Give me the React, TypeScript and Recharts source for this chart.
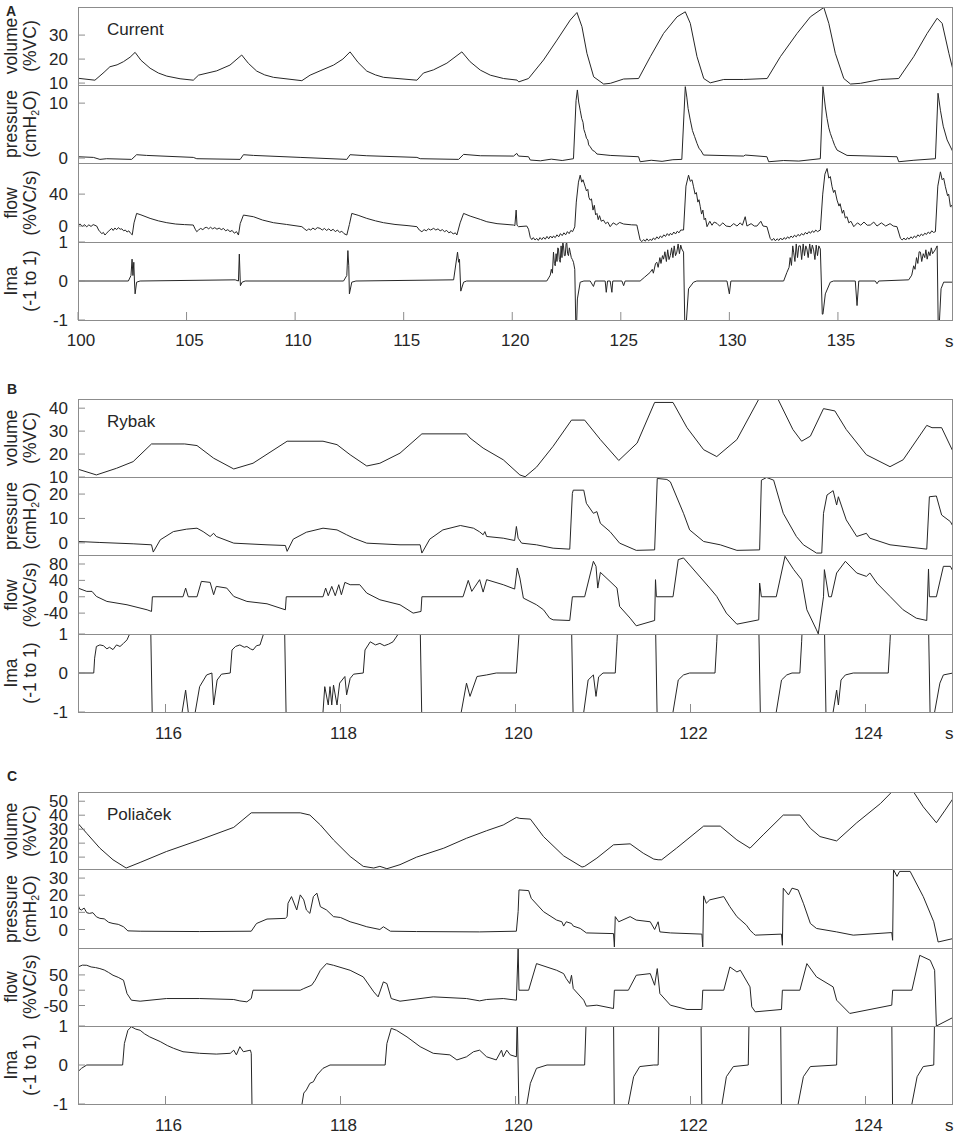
import React from 'react';
import { LineChart, Line, XAxis, YAxis } from 'recharts';

// ---- panel A (Current), time in s ----
const aTicksX = [100, 105, 110, 115, 120, 125, 130, 135];
const aVol = [
  [100, 12], [100.78, 11.2], [101.2, 14.5], [101.47, 16.8], [101.8, 17.6], [102.09, 18.9], [102.4, 20.8], [102.63, 22.8],
  [102.9, 19.5], [103.32, 16.2], [103.7, 14.2], [104.09, 12.9], [104.7, 11.8], [105.31, 11.2], [105.55, 13.3], [106.39, 15.1],
  [107.0, 17.5], [107.54, 21.7], [107.85, 18.2], [108.23, 15], [108.6, 13.4], [109.0, 12.4], [110.31, 11], [110.69, 13.3],
  [111.15, 15.1], [111.77, 17.5], [112.2, 20], [112.53, 23], [112.9, 18.6], [113.3, 15], [113.7, 13.4], [114.07, 12.4],
  [115.61, 11.2], [115.91, 14.2], [116.37, 15.5], [116.99, 18.3], [117.68, 23], [118.06, 18.9], [118.53, 15.4], [118.99, 13.3],
  [119.6, 11.9], [120.22, 11.25], [120.3, 10.5], [120.75, 11.9], [121.44, 19.6], [122.06, 27.9], [122.67, 36.25], [122.98, 39.4],
  [123.21, 33.5], [123.44, 22.4], [123.75, 12.6], [124.21, 9.6], [124.52, 9.9], [125.13, 11.7], [125.82, 11.9], [126.36, 21],
  [126.97, 30.7], [127.59, 37.6], [127.97, 39.7], [128.2, 34.9], [128.51, 21], [128.82, 11.9], [129.12, 10.1], [129.74, 11.5],
  [130.66, 11.5], [131.74, 11.9], [132.35, 21], [133.12, 30.7], [133.73, 37.6], [134.35, 41.5], [134.58, 34.9], [134.88, 22.4],
  [135.27, 11.9], [135.58, 9.6], [136.04, 9.9], [136.96, 11.5], [137.8, 11.9], [138.49, 21], [139.11, 30.7], [139.57, 37],
  [139.8, 34.9], [140.11, 22.4], [140.34, 14],
];
const aPres = [
  [100, 0.24], [100.71, 0.12], [101.01, -0.24], [101.32, -0.12], [102.47, -0.24], [102.7, 0.61], [103.16, 0.48], [105.31, 0.12],
  [105.47, -0.12], [107.47, -0.24], [107.62, 0.61], [108.08, 0.48], [110.23, 0.12], [112.38, -0.24], [112.53, 0.61], [113.3, 0.42],
  [115.61, 0.12], [115.76, -0.12], [117.53, -0.24], [117.76, 0.67], [118.53, 0.42], [120.06, 0.36], [120.21, 0.85], [120.29, 0.36],
  [120.75, 0.24], [120.83, -0.36], [121.3, -0.5], [121.8, -0.2], [122.3, -0.45], [122.82, -0.12], [122.94, 10.5], [123.0, 12.4],
  [123.06, 10.2], [123.13, 8.7], [123.2, 7.2], [123.26, 6.5], [123.3, 5.2], [123.36, 4.5], [123.42, 3.6], [123.48, 3.3],
  [123.52, 2.4], [123.59, 2.06], [123.7, 1.4], [123.8, 1.2], [123.9, 0.73], [124.51, 0.48], [125.82, 0.24], [125.89, -0.67],
  [126.4, -0.4], [126.9, -0.6], [127.4, -0.3], [127.81, -0.24], [127.97, 13.0], [128.04, 11.1], [128.1, 9.0], [128.2, 6.9],
  [128.3, 5.0], [128.4, 3.9], [128.51, 2.67], [128.6, 1.8], [128.7, 1.3], [128.81, 0.55], [130.66, 0.36], [130.73, 0.55],
  [131.73, 0.24], [131.81, -0.67], [132.5, -0.45], [133.2, -0.55], [134.19, -0.12], [134.31, 13.0], [134.42, 9.3], [134.5, 7.2],
  [134.58, 5.5], [134.65, 4.5], [134.75, 3.4], [134.85, 2.3], [134.96, 1.45], [135.42, 0.48], [137.72, 0.24], [137.8, -0.67],
  [138.5, -0.4], [139.49, -0.12], [139.61, 11.8], [139.72, 8.7], [139.85, 5.8], [140.03, 3.3], [140.33, 0.85],
];
const aFlow = [
  [100, 1], [100.1, 2.5], [100.2, -0.5], [100.3, 1.8], [100.4, -1], [100.5, 1.5], [100.6, -0.5], [100.7, 1.8], [100.86, 0],
  [100.95, -5], [101.01, -7.1], [101.1, -9.5], [101.17, -8], [101.24, -11.25], [101.32, -9], [101.4, -6.5], [101.47, -5],
  [101.55, -3], [101.62, -5.5], [101.7, -2.5], [101.78, -4.5], [101.86, -2], [101.94, -4], [102.02, -3.5], [102.1, -6],
  [102.18, -5], [102.26, -7.5], [102.34, -6], [102.42, -9], [102.5, -11], [102.58, 4], [102.7, 15.8], [102.9, 14],
  [103.32, 9.6], [103.7, 6.5], [104.09, 4.2], [104.5, 2.5], [104.9, 1.8], [105.31, 1.25],
  [105.4, -4], [105.47, -7.1], [105.55, -5], [105.65, -3], [105.75, -4.5], [105.85, -2], [105.93, -1.7], [106.02, -3.5],
  [106.1, -1.5], [106.2, -3.5], [106.3, -2], [106.4, -4], [106.5, -2.5], [106.6, -4.5], [106.7, -3], [106.8, -6], [106.9, -4.5],
  [107.0, -7], [107.1, -5.5], [107.2, -9], [107.3, -7], [107.39, -11.25], [107.47, 3], [107.62, 13.75], [108.08, 11.7],
  [108.5, 7.5], [109.0, 4.2], [109.6, 2], [110.31, -0.8],
  [110.45, -4], [110.54, -5.8], [110.62, -3.5], [110.72, -5], [110.82, -2.5], [110.92, -4.5], [111.02, -2], [111.15, -2.9],
  [111.25, -5], [111.35, -3], [111.45, -5.5], [111.55, -3.5], [111.65, -6], [111.75, -4], [111.85, -7], [111.95, -5],
  [112.05, -8], [112.15, -6.5], [112.25, -9.5], [112.38, -11.25], [112.5, 2], [112.61, 15.8], [112.9, 13.5], [113.3, 9.6],
  [113.7, 6.5], [114.07, 4.2], [114.6, 2], [115.2, 0.5], [115.61, -0.8],
  [115.72, -5], [115.84, -7.1], [115.94, -4.5], [116.04, -6], [116.14, -3.5], [116.24, -5], [116.38, -2.9], [116.48, -5],
  [116.58, -3.5], [116.68, -6], [116.78, -4.5], [116.88, -7], [116.98, -5.5], [117.08, -8.5], [117.18, -7], [117.28, -10],
  [117.38, -8.5], [117.45, -11.25], [117.6, 4], [117.76, 15.8], [118.06, 12.5], [118.53, 8.3], [118.83, 5.4], [119.3, 3],
  [120.06, 1.25], [120.12, 0.5], [120.18, 20], [120.22, 1], [120.29, -0.8], [120.67, 0], [120.75, -4],
  [120.83, -14.2], [120.9, -17], [120.97, -14.5], [121.05, -17.5], [121.13, -15.5], [121.2, -18], [121.28, -14.5],
  [121.36, -17], [121.44, -14], [121.52, -16.5], [121.6, -13], [121.68, -16], [121.76, -12.5], [121.84, -15], [121.9, -12.5],
  [121.98, -14.5], [122.06, -11], [122.14, -13.5], [122.22, -9.5], [122.3, -12], [122.38, -8.5], [122.46, -11], [122.54, -7],
  [122.62, -9.5], [122.7, -5.5], [122.78, -7], [122.88, -1],
  [122.95, 30], [123.05, 55], [123.13, 63.75], [123.2, 55], [123.26, 58], [123.36, 49.2], [123.42, 44], [123.48, 46],
  [123.53, 36], [123.59, 32.5], [123.65, 34], [123.72, 20], [123.78, 26], [123.84, 14], [123.9, 15.8], [123.96, 8],
  [124.02, 13], [124.1, 6], [124.2, 7.5], [124.3, 3], [124.4, 5], [124.51, -0.8], [124.65, 4], [124.8, 1.5], [124.95, 4.5],
  [125.13, 2.5], [125.5, 1.5], [125.74, 1.25],
  [125.89, -17.5], [125.97, -19.5], [126.05, -17], [126.13, -19], [126.2, -16], [126.28, -18.5], [126.35, -16.7],
  [126.43, -18], [126.5, -15], [126.58, -17], [126.66, -13.5], [126.74, -16], [126.82, -12.5], [126.9, -14.5], [126.98, -11],
  [127.06, -13], [127.14, -9.5], [127.22, -12], [127.28, -9.2], [127.36, -11], [127.44, -7.5], [127.52, -10], [127.6, -6.5],
  [127.68, -8.5], [127.76, -5], [127.89, -5],
  [128.0, 50], [128.12, 63.75], [128.2, 56], [128.28, 58], [128.35, 49.2], [128.42, 40], [128.48, 42], [128.55, 30],
  [128.6, 33], [128.66, 24.2], [128.72, 15], [128.78, 20], [128.84, 8], [128.9, 10], [128.97, -0.8], [129.1, 6], [129.2, 1],
  [129.3, 5], [129.43, 3.3], [129.55, 0], [129.7, 4], [129.85, 0], [130.04, -0.8], [130.2, 3], [130.35, 0], [130.5, 4],
  [130.6, 1], [130.73, 11.7], [130.81, 0], [131.0, 3], [131.15, 0], [131.27, 0], [131.45, 6], [131.55, 0], [131.73, -0.8],
  [131.88, -15.4], [131.96, -18], [132.04, -15.5], [132.12, -18.5], [132.2, -16], [132.28, -18], [132.36, -15],
  [132.44, -17.5], [132.52, -14.5], [132.6, -16.5], [132.68, -13.5], [132.76, -15.5], [132.84, -12.5], [132.92, -14.5],
  [133.0, -11.5], [133.08, -13.5], [133.16, -10.5], [133.24, -12.5], [133.32, -9.5], [133.42, -11.25], [133.5, -8],
  [133.58, -10], [133.66, -7], [133.74, -9], [133.82, -6], [133.9, -8], [133.98, -5], [134.06, -7], [134.19, -5],
  [134.3, 40], [134.4, 65], [134.5, 72.1], [134.58, 60], [134.65, 62], [134.73, 49.2], [134.8, 42], [134.86, 45],
  [134.96, 32.5], [135.05, 25], [135.1, 28], [135.2, 16], [135.26, 20], [135.34, 10], [135.42, 11.7], [135.5, 4], [135.6, 6],
  [135.73, -0.8], [135.9, 4], [136.05, 1], [136.2, 5], [136.35, 1], [136.49, 1.25], [136.65, 5], [136.8, 0], [137.0, 4],
  [137.2, 0], [137.4, 3], [137.55, 0], [137.72, -0.8],
  [137.88, -15.4], [137.96, -17.5], [138.04, -15], [138.12, -17.5], [138.2, -14.5], [138.28, -16.5], [138.36, -13.5],
  [138.44, -15.5], [138.52, -12.5], [138.6, -14.5], [138.68, -11], [138.76, -13], [138.84, -10], [138.92, -12], [139.0, -9],
  [139.08, -10.5], [139.16, -7.5], [139.24, -9.5], [139.32, -6], [139.4, -8], [139.49, -7.1],
  [139.6, 50], [139.72, 67.9], [139.8, 58], [139.87, 60], [139.95, 49.2], [140.05, 38], [140.1, 40], [140.18, 24.2],
  [140.25, 26], [140.33, 15.8],
];
const aIma = [
  [100, 0], [102.32, 0], [102.44, 0.14], [102.49, 0.56], [102.53, 0.14], [102.57, 0.48], [102.6, 0], [102.63, -0.33],
  [102.7, -0.03], [102.86, 0], [107.24, 0.03], [107.39, 0], [107.43, 0.69], [107.48, -0.12], [107.56, -0.03], [107.7, 0],
  [112.23, 0], [112.38, 0.14], [112.43, 0.78], [112.47, 0.39], [112.5, -0.33], [112.61, -0.03], [112.8, 0], [117.3, 0.03],
  [117.48, 0.74], [117.53, 0.48], [117.57, 0.56], [117.63, -0.26], [117.76, -0.03], [117.9, 0],
  [121.59, 0], [121.7, 0.1], [121.75, 0.15], [121.8, 0.3], [121.85, 0.2], [121.9, 0.74], [121.94, 0.45], [121.98, 0.39],
  [122.02, 0.7], [122.06, 0.5], [122.1, 0.85], [122.13, 0.82], [122.17, 0.55], [122.21, 0.48], [122.25, 0.9], [122.29, 0.6],
  [122.33, 1.0], [122.36, 0.9], [122.4, 0.65], [122.44, 0.65], [122.48, 0.95], [122.51, 0.99], [122.55, 0.7], [122.59, 0.65],
  [122.63, 0.85], [122.67, 0.74], [122.72, 0.6], [122.77, 0.55], [122.82, 0.48], [122.88, 0.3], [122.93, -1.2], [122.96, -1.2],
  [123.0, -0.46], [123.13, -0.03], [123.3, 0], [123.59, 0], [123.74, -0.14], [123.82, 0], [124.28, 0], [124.33, -0.29],
  [124.39, 0], [124.51, 0], [124.59, -0.29], [124.63, 0], [125.05, 0], [125.13, -0.12], [125.2, 0], [125.89, 0],
  [126.1, 0.1], [126.35, 0.22], [126.45, 0.3], [126.5, 0.2], [126.6, 0.45], [126.66, 0.48], [126.72, 0.35], [126.8, 0.6],
  [126.85, 0.45], [126.92, 0.65], [126.97, 0.56], [127.03, 0.75], [127.1, 0.5], [127.16, 0.8], [127.22, 0.55], [127.28, 0.65],
  [127.34, 0.85], [127.4, 0.6], [127.46, 0.9], [127.52, 0.65], [127.58, 0.74], [127.64, 0.95], [127.7, 0.7], [127.76, 0.92],
  [127.81, 0.82], [127.89, 0.74], [127.95, -1.2], [128.0, -1.2], [128.12, -0.2], [128.35, -0.03], [128.5, 0], [129.89, 0],
  [130.0, -0.33], [130.07, 0], [132.5, 0], [132.65, 0.22], [132.75, 0.35], [132.8, 0.6], [132.86, 0.4], [132.92, 0.9],
  [132.96, 0.74], [133.02, 0.5], [133.08, 0.95], [133.14, 0.6], [133.2, 0.9], [133.27, 0.9], [133.33, 0.55], [133.4, 0.95],
  [133.46, 0.65], [133.52, 0.9], [133.57, 0.82], [133.63, 0.6], [133.7, 0.95], [133.76, 0.7], [133.82, 0.92], [133.88, 0.8],
  [133.94, 0.55], [134.0, 0.92], [134.06, 0.65], [134.12, 0.9], [134.19, 0.82], [134.28, -0.85], [134.31, -0.85],
  [134.42, -0.33], [134.65, -0.03], [134.8, 0], [135.8, 0], [135.88, -0.63], [135.96, 0], [136.72, 0], [136.8, -0.07],
  [136.88, 0], [138.26, 0.03], [138.4, 0.15], [138.49, 0.39], [138.55, 0.3], [138.62, 0.6], [138.68, 0.45], [138.74, 0.75],
  [138.8, 0.74], [138.86, 0.5], [138.93, 0.7], [139.0, 0.6], [139.05, 0.8], [139.11, 0.56], [139.18, 0.75], [139.24, 0.65],
  [139.3, 0.85], [139.36, 0.7], [139.41, 0.74], [139.48, 0.8], [139.57, 0.9], [139.62, -1.2], [139.66, -1.2], [139.75, -0.2],
  [139.87, -0.03], [140.33, -0.03],
];

// ---- panel B (Rybak) ----
const bcTicksX = [116, 118, 120, 122, 124];
const bVol = [
  [115.0, 13.4], [115.21, 10.9], [115.44, 13.8], [115.63, 16.7], [115.84, 24.4], [116.22, 24.4], [116.36, 23.7], [116.55, 18.2],
  [116.78, 13.5], [117.0, 16.0], [117.39, 25.6], [117.8, 25.6], [117.96, 24.1], [118.11, 19.7], [118.3, 14.8], [118.45, 16.0],
  [118.68, 20.4], [118.93, 28.8], [119.44, 28.8], [119.48, 27.0], [119.63, 22.6], [119.86, 17.5], [120.05, 10.9], [120.11, 10.1],
  [120.24, 14.3], [120.43, 23.4], [120.64, 34.8], [120.79, 34.8], [120.97, 26.3], [121.18, 17.2], [121.39, 24.8], [121.59, 42.5],
  [121.8, 42.5], [121.96, 31.5], [122.15, 21.9], [122.3, 18.9], [122.53, 26.3], [122.78, 43.9], [123.0, 43.9], [123.17, 30.7],
  [123.27, 25.6], [123.37, 27.8], [123.52, 39.8], [123.65, 38.8], [123.78, 30.7], [124.01, 19.7], [124.28, 14.5], [124.43, 17.5],
  [124.7, 32.5], [124.76, 31.5], [124.87, 31.5], [125.0, 21.1],
];
const bPres = [
  [115, 0.54], [115.25, 0.14], [115.63, -0.41], [115.84, -0.82], [115.86, -3.8], [115.94, 1.22], [116.09, 4.6], [116.24, 5.6],
  [116.36, 6.0], [116.43, 4.6], [116.51, 2.6], [116.55, 3.9], [116.58, 2.6], [116.78, -0.14], [117.16, -0.82], [117.37, -1.1],
  [117.39, -3.5], [117.46, 1.5], [117.61, 4.35], [117.8, 6.0], [117.96, 5.3], [118.07, 3.3], [118.15, 1.9], [118.3, -0.14],
  [118.68, -0.82], [118.91, -0.82], [118.93, -4.2], [119.02, 1.5], [119.17, 5.3], [119.37, 7.1], [119.52, 6.0], [119.59, 4.5],
  [119.63, 3.3], [119.65, 4.6], [119.67, 2.6], [119.86, 1.9], [119.99, 0.95], [120.01, 6.7], [120.03, 1.9], [120.07, -0.14],
  [120.24, -0.82], [120.43, -2.2], [120.62, -2.6], [120.65, 20.3], [120.66, 21.6], [120.78, 21.6], [120.81, 16.2],
  [120.89, 12.1], [120.93, 12.8], [120.97, 8.0], [121.08, 4.6], [121.19, -0.14], [121.38, -3.1], [121.59, -2.9], [121.62, 26.4],
  [121.73, 26.0], [121.77, 25.0], [121.92, 12.1], [121.99, 5.3], [122.15, 0.54], [122.34, -0.82], [122.53, -3.1], [122.79, -2.9],
  [122.81, 25.7], [122.87, 26.8], [122.95, 25.7], [123.06, 12.1], [123.21, 2.6], [123.29, -0.82], [123.44, -4.2], [123.5, -4.2],
  [123.52, 12.1], [123.56, 19.6], [123.63, 21.4], [123.67, 15.5], [123.69, 18.9], [123.78, 9.4], [123.9, 2.6], [124.01, 3.9],
  [124.05, 1.9], [124.28, -0.82], [124.7, -2.6], [124.73, 18.9], [124.81, 19.2], [124.87, 11.4], [124.97, 8.7], [125, 6.7],
];
const bFlow = [
  [115, 21.2], [115.1, 13.1], [115.16, 13.1], [115.21, 0.8], [115.33, -11.4], [115.56, -19.6], [115.79, -31.9], [115.84, -35.9],
  [115.85, 0], [116.2, 0], [116.23, 21.2], [116.26, 0], [116.36, 0], [116.41, 37.6], [116.51, 35.1], [116.55, 4.9],
  [116.58, 25.3], [116.7, 21.2], [116.78, 0.8], [116.93, -11.4], [117.16, -17.2], [117.37, -31.9], [117.38, 0], [117.8, 0],
  [117.83, 21.2], [117.86, 2.5], [117.9, 25.3], [117.94, 2.5], [117.98, 29.4], [118.01, 4.9], [118.05, 35.1], [118.11, 29.4],
  [118.22, 29.4], [118.3, 9], [118.45, -7.4], [118.68, -19.6], [118.83, -40], [118.92, -35.9], [118.93, 0], [119.4, 0],
  [119.46, 40], [119.5, 13.1], [119.59, 41.7], [119.63, 11.4], [119.67, 41.7], [119.86, 29.4], [119.99, 18.8], [120.02, 70.3],
  [120.05, 45.8], [120.09, -3.3], [120.24, -19.6], [120.32, -31.9], [120.39, -52.3], [120.43, -56.4], [120.62, -58],
  [120.65, 0], [120.79, 0], [120.89, 86.6], [120.92, 74.3], [120.94, 21.2], [120.97, 59.6], [121.08, 37.6], [121.16, 21.2],
  [121.19, -23.7], [121.31, -52.3], [121.38, -71], [121.59, -58], [121.6, 41.7], [121.61, 0], [121.8, 0], [121.86, 90.7],
  [121.92, 94.8], [122.07, 58], [122.22, 21.2], [122.3, 0.8], [122.41, -40], [122.53, -67], [122.78, -56.4], [122.79, 33.5],
  [122.81, 0], [122.98, 0], [123.08, 98.8], [123.18, 66.2], [123.27, 41.7], [123.33, -31.9], [123.44, -80.9], [123.46, -90.7],
  [123.52, 0], [123.53, 66.2], [123.58, 0], [123.61, 0], [123.67, 58], [123.77, 86.6], [123.9, 58], [124.01, 49.8],
  [124.05, 58], [124.13, 33.5], [124.28, 0.8], [124.43, -31.9], [124.58, -52.3], [124.7, -58], [124.72, 67.8], [124.73, 0],
  [124.81, 0], [124.89, 74.3], [124.97, 74.3], [125.0, 62],
];
const bIma = [
  [115, 0], [115.18, 0], [115.19, 0.38], [115.21, 0.68], [115.25, 0.72], [115.29, 0.7], [115.33, 0.62], [115.36, 0.66],
  [115.4, 0.6], [115.44, 0.72], [115.48, 0.68], [115.52, 0.76], [115.56, 0.85], [115.59, 1.0], [115.62, 1.3], [115.83, 1.3],
  [115.85, -1.3], [116.17, -1.3], [116.19, -1], [116.23, -0.44], [116.26, -1], [116.28, -1.3], [116.33, -1.3], [116.34, -1],
  [116.39, -0.35], [116.47, -0.05], [116.53, 0], [116.55, -0.82], [116.59, -0.18], [116.64, -0.03], [116.74, 0],
  [116.76, 0.59], [116.8, 0.68], [116.85, 0.72], [116.9, 0.66], [116.93, 0.68], [116.97, 0.62], [117.0, 0.59], [117.04, 0.7],
  [117.08, 0.72], [117.12, 1.0], [117.15, 1.3], [117.36, 1.3], [117.38, -1.3], [117.79, -1.3], [117.8, -1], [117.82, -0.35],
  [117.86, -0.82], [117.88, -0.35], [117.9, -0.82], [117.92, -0.31], [117.96, -0.82], [117.99, -0.26], [118.05, -0.09],
  [118.07, -0.56], [118.11, -0.14], [118.15, -0.03], [118.26, 0], [118.28, 0.59], [118.34, 0.8], [118.4, 0.72],
  [118.45, 0.76], [118.5, 0.7], [118.55, 0.74], [118.6, 0.8], [118.66, 1.0], [118.7, 1.3], [118.91, 1.3], [118.93, -1.3],
  [119.36, -1.3], [119.38, -1], [119.44, -0.26], [119.48, -0.6], [119.56, -0.09], [119.67, -0.05], [119.78, 0], [120.01, 0],
  [120.04, 1.0], [120.06, 1.3], [120.64, 1.3], [120.66, -1.3], [120.77, -1.3], [120.78, -1], [120.83, -0.18],
  [120.89, -0.05], [120.92, -0.6], [120.95, -0.1], [121.0, 0], [121.14, 0], [121.16, 0.8], [121.17, 1.3], [121.6, 1.3],
  [121.62, -1.3], [121.79, -1.3], [121.8, -1], [121.86, -0.18], [121.92, -0.05], [121.99, 0], [122.28, 0], [122.3, 0.8],
  [122.31, 1.3], [122.78, 1.3], [122.8, -1.3], [122.97, -1.3], [122.98, -1], [123.04, -0.18], [123.1, -0.05], [123.16, 0],
  [123.25, 0], [123.27, 0.8], [123.28, 1.3], [123.53, 1.3], [123.55, -1.3], [123.62, -1.3], [123.63, -1], [123.67, -0.44],
  [123.69, -0.82], [123.72, -0.18], [123.77, -0.05], [123.86, 0], [124.26, 0], [124.28, 0.8], [124.29, 1.3], [124.72, 1.3],
  [124.74, -1.3], [124.78, -1.3], [124.79, -1], [124.85, -0.26], [124.89, -0.05], [125, 0],
];

// ---- panel C (Poliaček) ----
const cVol = [
  [115.0, 34.1], [115.1, 27.0], [115.25, 16.4], [115.4, 8.1], [115.55, 2.2], [115.71, 6.2], [116.01, 14.0], [116.39, 22.3],
  [116.78, 31.3], [116.98, 41.7], [117.54, 41.7], [117.65, 40.1], [117.77, 33.0], [117.92, 22.3], [118.11, 10.5],
  [118.26, 3.4], [118.38, 2.2], [118.45, 3.4], [118.53, 1.7], [118.68, 4.6], [118.87, 10], [119.18, 16.4], [119.44, 23.5],
  [119.67, 28.9], [119.86, 33.0], [120.01, 38.4], [120.05, 37.7], [120.17, 37.2], [120.32, 24.7], [120.55, 10.9],
  [120.76, 2.9], [120.79, 3.4], [120.93, 9.3], [121.12, 18.8], [121.31, 19.5], [121.46, 12.8], [121.58, 8.6], [121.63, 8.1],
  [121.67, 8.1], [121.84, 16.4], [122.15, 32.2], [122.34, 32.2], [122.53, 22.3], [122.68, 16.4], [122.83, 25.9],
  [123.06, 40.1], [123.25, 40.1], [123.37, 30.6], [123.48, 24.7], [123.67, 21.6], [123.9, 34.6], [124.17, 48.3],
  [124.3, 56.6], [124.55, 56.6], [124.66, 46.0], [124.81, 34.6], [124.91, 43.6], [125.0, 51.9],
];
const cPres = [
  [115.0, 14.3], [115.02, 11.8], [115.04, 11.4], [115.07, 12.5], [115.1, 9.8], [115.13, 9.4], [115.17, 9.8], [115.21, 7.4],
  [115.25, 6.5], [115.3, 6.2], [115.35, 4.2], [115.4, 3.5], [115.46, 3.0], [115.52, 1.6], [115.57, -0.8], [115.71, -1.0],
  [116.39, -1.2], [116.98, -1.0], [117.04, 3.5], [117.16, 6.1], [117.37, 6.5], [117.39, 7.5], [117.4, 15.3], [117.44, 19.2],
  [117.5, 11.4], [117.54, 20.2], [117.58, 17.3], [117.61, 11.4], [117.65, 9.4], [117.69, 19.2], [117.73, 21.2],
  [117.77, 13.3], [117.84, 11.4], [117.92, 7.5], [118.0, 7.0], [118.11, 4.5], [118.2, 3.2], [118.3, 1.6], [118.45, 0],
  [118.49, 1.6], [118.57, -1.0], [118.87, -1.2], [119.59, -1.4], [120.01, -1.0], [120.03, 10.4], [120.04, 23.1],
  [120.15, 22.7], [120.18, 18.2], [120.32, 10.4], [120.47, 5.5], [120.53, 4.5], [120.55, 2.0], [120.58, 4.5], [120.64, 3.5],
  [120.66, 2.0], [120.74, 0.6], [120.81, -2.0], [121.12, -2.4], [121.13, -10.2], [121.14, 7.5], [121.18, 4.5], [121.31, 7.5],
  [121.38, 5.5], [121.54, 4.5], [121.59, 0], [121.63, 4.5], [121.65, -1.4], [121.77, -2.0], [122.13, -2.7], [122.14, -10.2],
  [122.15, 19.6], [122.18, 15.3], [122.22, 17.3], [122.38, 19.2], [122.45, 13.3], [122.53, 7.5], [122.64, 2.5],
  [122.68, -0.4], [122.72, -2.4], [122.74, -3.3], [123.04, -2.7], [123.05, -9.2], [123.06, 24.1], [123.12, 20.2],
  [123.16, 24.1], [123.23, 23.1], [123.29, 15.3], [123.37, 3.5], [123.44, 0.6], [123.67, -1.4], [123.86, -3.3],
  [124.3, -1.8], [124.31, -6.3], [124.32, 34.9], [124.36, 31.0], [124.39, 33.9], [124.51, 33.9], [124.66, 19.2],
  [124.78, 4.5], [124.83, -7.3], [125.0, -5.3],
];
const cFlow = [
  [115.0, 76], [115.05, 82], [115.1, 81.5], [115.15, 76], [115.2, 74], [115.25, 70.7], [115.3, 66], [115.35, 58],
  [115.4, 48.9], [115.46, 42], [115.52, 32.6], [115.56, -10.9], [115.61, -32.6], [115.71, -35.9], [116.01, -27.2],
  [116.39, -27.2], [116.78, -30.4], [116.85, -35], [116.93, -38], [116.98, -27.2], [117.0, 0], [117.54, 0], [117.58, 5.4],
  [117.67, 16.3], [117.71, 32.6], [117.77, 65.2], [117.84, 87], [117.92, 81.5], [118.11, 65.2], [118.26, 43.5],
  [118.38, -5.4], [118.43, -21.7], [118.49, 27.2], [118.53, 21.7], [118.58, -27.2], [118.68, -35.9], [119.06, -21.7],
  [119.44, -27.2], [119.59, -34.8], [119.67, -30.4], [119.86, -27.2], [120.01, -32.6], [120.03, 138], [120.04, 0],
  [120.15, 0], [120.24, 87], [120.47, 65.2], [120.55, 54.3], [120.58, 38], [120.62, 21.7], [120.64, 48.9], [120.66, 5.4],
  [120.78, -32.6], [120.81, -52.2], [120.93, -48.9], [121.12, -59.8], [121.13, 0], [121.29, 0], [121.38, 48.9],
  [121.54, 54.3], [121.59, 16.3], [121.62, 70.7], [121.65, -10.9], [121.77, -48.9], [121.96, -63], [122.13, -63],
  [122.14, 0], [122.38, 0], [122.45, 76], [122.53, 59.8], [122.57, 65.2], [122.68, 10.9], [122.7, -54.3], [122.74, -70.7],
  [123.04, -63], [123.05, 0], [123.25, 0], [123.33, 87], [123.44, 43.5], [123.63, 10.9], [123.67, -32.6], [123.82, -76],
  [124.3, -48.9], [124.31, 0], [124.53, 0], [124.62, 114], [124.74, 97.8], [124.79, 65.2], [124.81, -117], [125.0, -89.1],
];
const cIma = [
  [115.0, -0.17], [115.04, -0.085], [115.1, 0], [115.51, 0], [115.53, 0.55], [115.57, 0.89], [115.61, 0.98], [115.66, 0.92],
  [115.71, 0.89], [115.76, 0.8], [115.82, 0.72], [115.88, 0.66], [115.94, 0.6], [116.02, 0.5], [116.09, 0.43], [116.2, 0.34],
  [116.39, 0.3], [116.58, 0.28], [116.74, 0.3], [116.78, 0.38], [116.81, 0.26], [116.85, 0.47], [116.89, 0.34],
  [116.97, 0.38], [116.98, 0.3], [116.99, -1.3], [117.55, -1.3], [117.56, -1], [117.58, -0.72], [117.61, -0.64],
  [117.65, -0.47], [117.69, -0.43], [117.73, -0.26], [117.8, -0.085], [117.88, 0], [118.51, 0], [118.53, 0.55],
  [118.58, 0.94], [118.64, 0.89], [118.76, 0.72], [118.91, 0.47], [119.06, 0.3], [119.25, 0.26], [119.33, 0.13],
  [119.44, 0.21], [119.52, 0.34], [119.59, 0.38], [119.67, 0.21], [119.78, 0.13], [119.84, 0.38], [119.86, 0.21],
  [119.9, 0.38], [119.94, 0.26], [120.01, 0.21], [120.02, 1.3], [120.04, -1.3], [120.12, -1.3], [120.13, -1],
  [120.17, -0.47], [120.24, -0.085], [120.36, 0], [120.79, 0], [120.81, 1.3], [121.12, 1.3], [121.13, -1.3], [121.28, -1.3],
  [121.29, -1], [121.35, -0.3], [121.42, -0.04], [121.58, 0], [121.63, 0], [121.64, 1.3], [122.12, 1.3], [122.13, -1.3],
  [122.35, -1.3], [122.36, -1], [122.41, -0.3], [122.49, -0.04], [122.66, 0], [122.67, 1.3], [123.03, 1.3], [123.04, -1.3],
  [123.22, -1.3], [123.23, -1], [123.29, -0.3], [123.37, -0.04], [123.67, 0], [123.68, 1.3], [124.3, 1.3], [124.31, -1.3],
  [124.52, -1.3], [124.53, -1], [124.59, -0.3], [124.66, -0.04], [124.78, 0], [124.79, 1.3], [125.0, 1.3],
];

// y tick sets
const aVolTicks = [10, 20, 30];
const aPresTicks = [0, 10];
const aFlowTicks = [0, 40];
const imaTicks = [-1, 0, 1];
const bVolTicks = [10, 20, 30, 40];
const bPresTicks = [0, 10, 20];
const bFlowTicks = [-40, 0, 40, 80];
const cVolTicks = [10, 20, 30, 40, 50];
const cPresTicks = [0, 10, 20, 30];
const cFlowTicks = [-50, 0, 50];

const W = 954;
const PL = 78;
const PR = 1;
const PAD = 12; // room above/below each strip so edge tick labels are not clipped
const INK = '#262626';
const GRID = '#8c8c8c';
const FONT = '"Liberation Sans", Arial, sans-serif';

const toPts = (a: number[][]) => a.map(([t, v]) => ({ t, v }));

type SubProps = {
  top: number;
  height: number;
  data: number[][];
  yDomain: [number, number];
  yTicks: number[];
  xDomain: [number, number];
  xTicks: number[];
  showX?: boolean;
  xMargin?: number;
};

function Sub({ top, height, data, yDomain, yTicks, xDomain, xTicks, showX, xMargin }: SubProps) {
  const xh = showX ? 40 : 0;
  const tickStyle = { fill: INK, fontSize: 17, fontFamily: FONT };
  const h = height + xh + PAD * 2;
  return (
    <div style={{ position: 'absolute', left: 0, top: top - PAD, width: W, height: h }}>
      <LineChart width={W} height={h} margin={{ top: PAD, right: PR, bottom: PAD, left: 0 }}>
        <XAxis
          type="number"
          dataKey="t"
          domain={xDomain}
          ticks={xTicks}
          allowDataOverflow
          hide={!showX}
          height={xh}
          axisLine={false}
          stroke={GRID}
          tickSize={-8}
          tickMargin={xMargin}
          interval={0}
          tick={{ ...tickStyle, dx: 3 }}
        />
        <YAxis
          yAxisId="l"
          type="number"
          domain={yDomain}
          ticks={yTicks}
          allowDataOverflow
          width={PL}
          axisLine={false}
          stroke={GRID}
          tickSize={-7}
          tickMargin={17}
          interval={0}
          tick={tickStyle}
        />
        <YAxis
          yAxisId="r"
          orientation="right"
          type="number"
          domain={yDomain}
          ticks={yTicks}
          allowDataOverflow
          width={0}
          axisLine={false}
          stroke={GRID}
          tickSize={-7}
          interval={0}
          tick={false}
        />
        <Line
          yAxisId="l"
          data={toPts(data)}
          dataKey="v"
          type="linear"
          dot={false}
          stroke={INK}
          strokeWidth={1}
          isAnimationActive={false}
        />
      </LineChart>
      <div
        style={{
          position: 'absolute', left: PL, top: PAD, width: W - PL - PR, height: height + 1,
          boxSizing: 'border-box', border: `1px solid ${GRID}`, pointerEvents: 'none',
        }}
      />
    </div>
  );
}

function YLab({ cy, l1, l2 }: { cy: number; l1: React.ReactNode; l2: React.ReactNode }) {
  const box = (cx: number, txt: React.ReactNode) => (
    <div
      style={{
        position: 'absolute', left: cx - 60, top: cy - 10, width: 120, height: 20, lineHeight: '20px',
        textAlign: 'center', transform: 'rotate(-90deg)', fontSize: 17.5, color: INK, whiteSpace: 'nowrap',
      }}
    >
      {txt}
    </div>
  );
  return (
    <>
      {box(11, l1)}
      {box(30, l2)}
    </>
  );
}

const pres = (
  <span>
    (cmH<sub style={{ fontSize: '0.6em', verticalAlign: '-0.25em' }}>2</sub>O)
  </span>
);

type PanelDef = {
  letter: string;
  name: string;
  letterTop: number;
  letterLeft: number;
  tops: number[];
  bottom: number;
  xDomain: [number, number];
  xTicks: number[];
  xMargin: number;
  sets: { data: number[][]; dom: [number, number]; ticks: number[] }[];
};

const panels: PanelDef[] = [
  {
    letter: 'A', name: 'Current', letterTop: 3, letterLeft: 6, tops: [7, 85, 163, 242], bottom: 320,
    xDomain: [100, 140.3], xTicks: aTicksX, xMargin: 22,
    sets: [
      { data: aVol, dom: [9.2, 41.7], ticks: aVolTicks },
      { data: aPres, dom: [-0.9, 13.3], ticks: aPresTicks },
      { data: aFlow, dom: [-20, 79], ticks: aFlowTicks },
      { data: aIma, dom: [-1, 1], ticks: imaTicks },
    ],
  },
  {
    letter: 'B', name: 'Rybak', letterTop: 381, letterLeft: 7, tops: [399, 477, 555, 634], bottom: 712,
    xDomain: [115, 125], xTicks: bcTicksX, xMargin: 23,
    sets: [
      { data: bVol, dom: [10, 44], ticks: bVolTicks },
      { data: bPres, dom: [-5, 27], ticks: bPresTicks },
      { data: bFlow, dom: [-91, 102], ticks: bFlowTicks },
      { data: bIma, dom: [-1, 1], ticks: imaTicks },
    ],
  },
  {
    letter: 'C', name: 'Poliaček', letterTop: 768, letterLeft: 7, tops: [792, 869, 948, 1026], bottom: 1104,
    xDomain: [115, 125], xTicks: bcTicksX, xMargin: 23,
    sets: [
      { data: cVol, dom: [1.5, 56.6], ticks: cVolTicks },
      { data: cPres, dom: [-10.8, 35.3], ticks: cPresTicks },
      { data: cFlow, dom: [-117, 138], ticks: cFlowTicks },
      { data: cIma, dom: [-1, 1], ticks: imaTicks },
    ],
  },
];

const labels: [React.ReactNode, React.ReactNode][] = [
  ['volume', '(%VC)'],
  ['pressure', pres],
  ['flow', '(%VC/s)'],
  ['Ima', '(-1 to 1)'],
];

export default function App() {
  return (
    <div
      style={{
        position: 'absolute', left: 0, top: 0, width: W, height: 1136, background: '#fff',
        fontFamily: FONT, color: INK, overflow: 'hidden',
      }}
    >
      {panels.map((p) => (
        <React.Fragment key={p.letter}>
          {p.sets.map((s, i) => {
            const top = p.tops[i];
            const bottom = i < 3 ? p.tops[i + 1] : p.bottom;
            return (
              <React.Fragment key={i}>
                <Sub
                  top={top}
                  height={bottom - top}
                  data={s.data}
                  yDomain={s.dom}
                  yTicks={s.ticks}
                  xDomain={p.xDomain}
                  xTicks={p.xTicks}
                  showX={i === 3}
                  xMargin={p.xMargin}
                />
                <YLab cy={(top + bottom) / 2} l1={labels[i][0]} l2={labels[i][1]} />
              </React.Fragment>
            );
          })}
          <div style={{ position: 'absolute', left: p.letterLeft, top: p.letterTop, fontSize: 14, fontWeight: 'bold' }}>
            {p.letter}
          </div>
          <div style={{ position: 'absolute', left: 107, top: p.tops[0] + 13, fontSize: 17 }}>{p.name}</div>
          <div style={{ position: 'absolute', left: 945, top: p.bottom + 12, fontSize: 17 }}>s</div>
        </React.Fragment>
      ))}
    </div>
  );
}
